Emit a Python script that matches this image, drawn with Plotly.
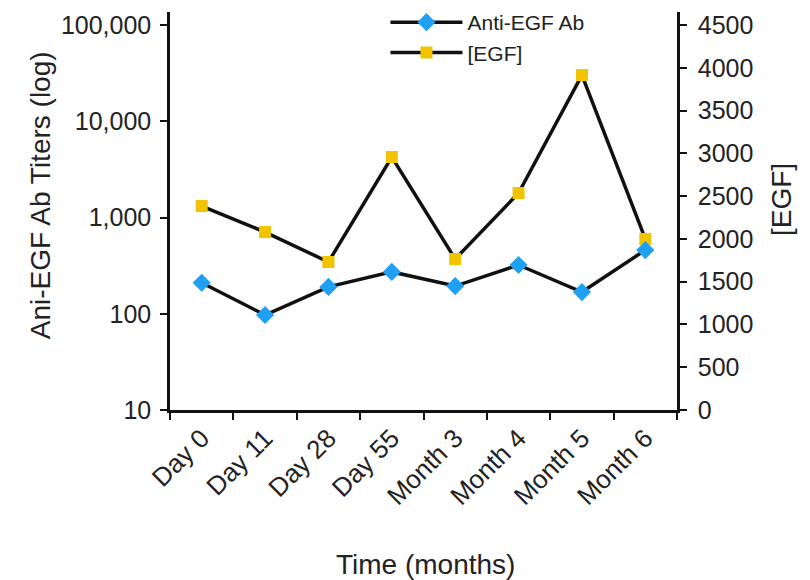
import plotly.graph_objects as go

# Sampling time points
time_points = ["Day 0", "Day 11", "Day 28", "Day 55", "Month 3", "Month 4", "Month 5", "Month 6"]

# Anti-EGF antibody titers (log scale, left axis)
anti_egf_ab = [210, 97, 190, 272, 194, 321, 168, 459]

# EGF concentration (linear scale, right axis)
egf_conc = [2384, 2080, 1730, 2957, 1765, 2536, 3915, 1999]

log_ticks = [10, 100, 1000, 10000, 100000]

FONT = "Liberation Sans, Arial, sans-serif"
INK = "#222222"

fig = go.Figure()

fig.add_trace(go.Scatter(
    x=time_points, y=egf_conc, name="[EGF]", yaxis="y",
    mode="lines+markers",
    line=dict(color="#111111", width=3.5),
    marker=dict(symbol="square", size=12, color="#F2C400"),
    legendrank=2,
))

fig.add_trace(go.Scatter(
    x=time_points, y=anti_egf_ab, name="Anti-EGF Ab", yaxis="y2",
    mode="lines+markers",
    line=dict(color="#111111", width=3.5),
    marker=dict(symbol="diamond", size=14, color="#1FA0F2"),
    legendrank=1,
))

axis_common = dict(
    showline=True, linecolor="#111111", linewidth=2.5,
    ticks="outside", ticklen=7, tickwidth=2, tickcolor="#111111",
    showgrid=False, zeroline=False,
)

title_font = dict(family=FONT, size=28, color=INK)

fig.update_layout(
    width=810, height=580,
    margin=dict(l=170, r=133, t=12, b=170, autoexpand=False),
    paper_bgcolor="white", plot_bgcolor="white",
    font=dict(family=FONT, color=INK),
    xaxis=dict(
        **axis_common,
        type="category", categoryorder="array", categoryarray=time_points,
        range=[-0.5, 7.5], tickson="boundaries", tickangle=-45,
        tickfont=dict(family=FONT, size=26, color=INK),
    ),
    yaxis=dict(
        **axis_common,
        side="right", range=[0, 4652], tickvals=list(range(0, 4501, 500)),
        tickformat="d", ticklabelstandoff=6,
        tickfont=dict(family=FONT, size=25, color=INK),
    ),
    yaxis2=dict(
        **axis_common,
        side="left", overlaying="y", type="log", range=[1, 5.135],
        tickvals=log_ticks, tickformat=",d", ticklabelstandoff=4,
        tickfont=dict(family=FONT, size=25, color=INK),
    ),
    legend=dict(
        x=0.425, y=1.025, xanchor="left", yanchor="top",
        bgcolor="rgba(0,0,0,0)", itemwidth=72,
        font=dict(family=FONT, size=21, color=INK),
        tracegroupgap=0,
    ),
    showlegend=True,
    annotations=[
        dict(text="Ani-EGF Ab Titers (log)", xref="paper", yref="paper",
             x=-0.256, y=0.54, textangle=-90, showarrow=False,
             xanchor="center", yanchor="middle", font=title_font),
        dict(text="[EGF]", xref="paper", yref="paper",
             x=1.205, y=0.53, textangle=-90, showarrow=False,
             xanchor="center", yanchor="middle", font=title_font),
        dict(text="Time (months)", xref="paper", yref="paper",
             x=0.503, y=-0.389, showarrow=False,
             xanchor="center", yanchor="middle", font=title_font),
    ],
)

fig.write_html("out.html")
